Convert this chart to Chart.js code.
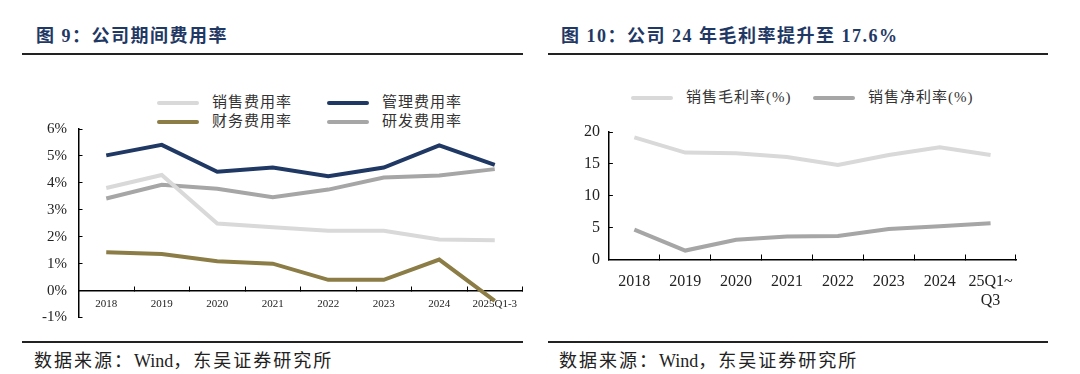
<!DOCTYPE html>
<html>
<head>
<meta charset="utf-8">
<script src="https://cdn.jsdelivr.net/npm/chart.js@4.4.1/dist/chart.umd.min.js"></script>
<style>
  body { margin: 0; width: 1080px; height: 374px; background: #fff; position: relative; overflow: hidden;
         font-family: "Liberation Serif", "Noto Sans CJK SC", serif; }
  .abs { position: absolute; white-space: nowrap; }
  .title { font-weight: bold; font-size: 18px; color: #1f3864; letter-spacing: 1.5px; line-height: 20px; }
  .rule { position: absolute; height: 2px; background: #222; }
  .src { font-size: 18px; color: #222; letter-spacing: 2px; line-height: 20px; }
  .src span { letter-spacing: 0; }
  .leg { font-size: 15px; color: #333; letter-spacing: 1px; line-height: 18px; }
  .sw { position: absolute; height: 4px; border-radius: 2px; }
  canvas { position: absolute; top: 0; }
</style>
</head>
<body>
<div class="abs title" style="left:36px;top:26px">图 9：公司期间费用率</div>
<div class="abs title" style="left:561px;top:26px">图 10：公司 24 年毛利率提升至 17.6%</div>
<div class="rule" style="left:22px;top:53px;width:501px"></div>
<div class="rule" style="left:548px;top:53px;width:500px"></div>
<div class="rule" style="left:22px;top:341px;width:501px"></div>
<div class="rule" style="left:548px;top:341px;width:500px"></div>
<div class="abs src" style="left:34px;top:351px">数据来源：<span>Wind</span>，东吴证券研究所</div>
<div class="abs src" style="left:559px;top:351px">数据来源：<span>Wind</span>，东吴证券研究所</div>
<div id="legL"></div>
<div id="legR"></div>
<canvas id="c1" width="540" height="374" style="left:0"></canvas>
<canvas id="c2" width="540" height="374" style="left:540px"></canvas>
<script>
// 图9 公司期间费用率 (%)
const years = ['2018', '2019', '2020', '2021', '2022', '2023', '2024', '2025Q1-3'];
const salesExp = [3.81, 4.29, 2.49, 2.35, 2.22, 2.22, 1.90, 1.87];
const adminExp = [5.02, 5.41, 4.41, 4.57, 4.25, 4.57, 5.39, 4.67];
const finExp = [1.42, 1.36, 1.09, 1.00, 0.40, 0.40, 1.15, -0.38];
const rdExp = [3.42, 3.93, 3.78, 3.47, 3.75, 4.20, 4.27, 4.51];
const expTicks = [-1, 0, 1, 2, 3, 4, 5, 6];

// 图10 毛利率 / 净利率 (%)
const periods = ['2018', '2019', '2020', '2021', '2022', '2023', '2024', ['25Q1~', 'Q3']];
const grossMargin = [19.15, 16.77, 16.67, 16.08, 14.81, 16.40, 17.6, 16.40];
const netMargin = [4.7, 1.4, 3.1, 3.6, 3.7, 4.8, 5.2, 5.7];
const marginTicks = [0, 5, 10, 15, 20];

const SERIF = '"Liberation Serif", "Noto Sans CJK SC", serif';
const LIGHT = '#d9d9d9', NAVY = '#1f3864', OLIVE = '#8b7d45', GREY = '#a6a6a6';

function line(label, data, color) {
  return { label, data, borderColor: color, backgroundColor: color, borderWidth: 4,
           pointRadius: 0, tension: 0, fill: false };
}

function legend(id, items) {
  const box = document.getElementById(id);
  items.forEach(([ds, x, y]) => {
    const sw = document.createElement('div');
    sw.className = 'sw';
    sw.style.cssText = `left:${x}px;top:${y - 2}px;width:42px;background:${ds.borderColor}`;
    const t = document.createElement('div');
    t.className = 'abs leg';
    t.style.cssText = `left:${x + 55}px;top:${y - 10}px`;
    t.textContent = ds.label;
    box.appendChild(sw);
    box.appendChild(t);
  });
}

const setTicks = arr => s => { s.ticks = arr.map(v => ({ value: v })); };

// ---- left chart
const dsL = [
  line('销售费用率', salesExp, LIGHT),
  line('管理费用率', adminExp, NAVY),
  line('财务费用率', finExp, OLIVE),
  line('研发费用率', rdExp, GREY)
];
new Chart(document.getElementById('c1'), {
  type: 'line',
  data: { labels: years, datasets: dsL },
  options: {
    responsive: false, animation: false, events: [],
    layout: { padding: { left: 28.5, right: 17.5, top: 129, bottom: 56.5 } },
    plugins: { legend: { display: false }, tooltip: { enabled: false } },
    scales: {
      x: {
        type: 'category', offset: true, position: { y: 0 },
        grid: { offset: true, drawOnChartArea: false, color: '#000', lineWidth: 1, tickLength: -5 },
        border: { display: true, color: '#000', width: 1.5 },
        ticks: { color: '#222', font: { family: SERIF, size: 11 }, padding: 12, maxRotation: 0, autoSkip: false },
        afterFit: s => { s.paddingLeft = 0; s.paddingRight = 0; }
      },
      y: {
        min: -1, max: 6,
        afterBuildTicks: setTicks(expTicks),
        grid: { drawOnChartArea: false, color: '#000', lineWidth: 1, tickLength: -4 },
        border: { display: true, color: '#000', width: 1.5 },
        ticks: { color: '#222', font: { family: SERIF, size: 15 }, padding: 15.5, callback: v => v + '%' },
        afterFit: s => { s.width = 50; s.paddingTop = 0; s.paddingBottom = 0; }
      }
    }
  }
});
legend('legL', [[dsL[0], 157, 103], [dsL[1], 327, 103], [dsL[2], 157, 122], [dsL[3], 327, 122]]);

// ---- right chart
const dsR = [
  line('销售毛利率(%)', grossMargin, LIGHT),
  line('销售净利率(%)', netMargin, GREY)
];
new Chart(document.getElementById('c2'), {
  type: 'line',
  data: { labels: periods, datasets: dsR },
  options: {
    responsive: false, animation: false, events: [],
    layout: { padding: { left: 18.9, right: 64, top: 132, bottom: 54.5 } },
    plugins: { legend: { display: false }, tooltip: { enabled: false } },
    scales: {
      x: {
        type: 'category', offset: true, position: 'bottom',
        grid: { offset: true, drawOnChartArea: false, color: '#000', lineWidth: 1, tickLength: -5 },
        border: { display: true, color: '#000', width: 1.5 },
        ticks: { color: '#222', font: { family: SERIF, size: 16 }, padding: 17.5, maxRotation: 0, autoSkip: false },
        afterFit: s => { s.height = 60; s.paddingLeft = 0; s.paddingRight = 0; }
      },
      y: {
        min: 0, max: 20,
        afterBuildTicks: setTicks(marginTicks),
        grid: { drawOnChartArea: false, color: '#000', lineWidth: 1, tickLength: -4 },
        border: { display: true, color: '#000', width: 1.5 },
        ticks: { color: '#222', font: { family: SERIF, size: 16 }, padding: 13 },
        afterFit: s => { s.width = 50; s.paddingTop = 0; s.paddingBottom = 0; }
      }
    }
  }
});
legend('legR', [[dsR[0], 631, 98], [dsR[1], 813, 98]]);
</script>
</body>
</html>
